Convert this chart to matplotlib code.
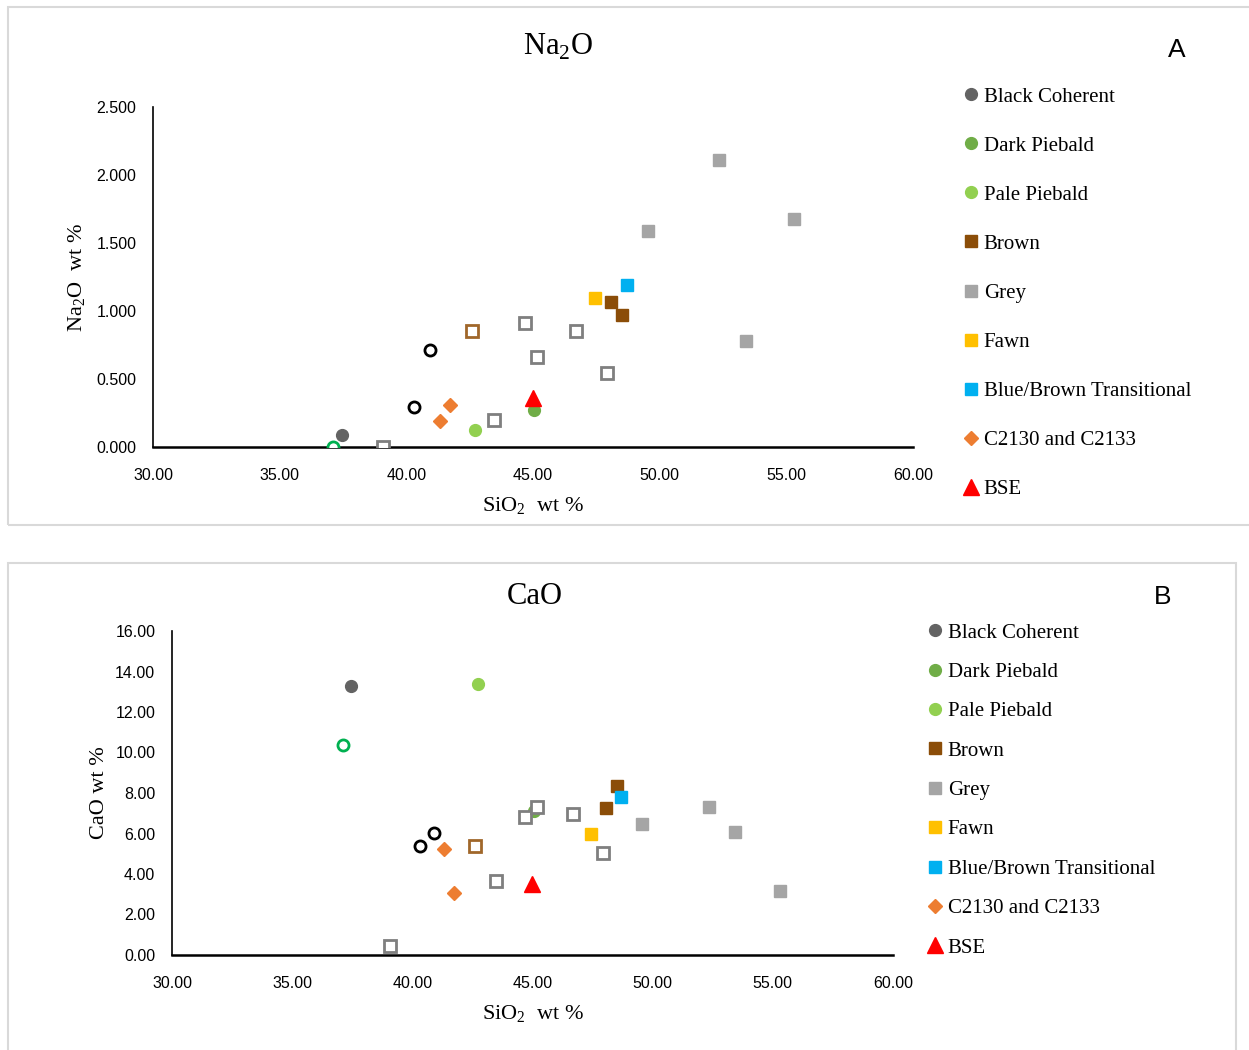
import matplotlib
matplotlib.use("Agg")
import matplotlib.pyplot as plt
from matplotlib.patches import Rectangle
from matplotlib.ticker import FormatStrFormatter

plt.rcParams['mathtext.fontset'] = 'custom'
plt.rcParams['mathtext.rm'] = 'Liberation Serif'
SERIF = 'Liberation Serif'
SANS = 'Liberation Sans'

# SiO2 / Na2O / CaO (wt %)
black_sio2 = [37.45]
black_na2o = [0.09]
black_cao = [13.28]

dark_sio2 = [45.05]
dark_na2o = [0.27]
dark_cao = [7.10]

pale_sio2 = [42.72]
pale_na2o = [0.125]
pale_cao = [13.38]

brown_sio2 = [48.07, 48.50]
brown_na2o = [1.066, 0.970]
brown_cao = [7.26, 8.35]

grey_sio2 = [49.55, 52.33, 53.42, 55.30]
grey_na2o = [1.588, 2.110, 0.780, 1.676]
grey_cao = [6.47, 7.31, 6.07, 3.16]

fawn_sio2 = [47.45]
fawn_na2o = [1.095]
fawn_cao = [5.98]

blue_sio2 = [48.70]
blue_na2o = [1.190]
blue_cao = [7.80]

c21_sio2 = [41.33, 41.73]
c21_na2o = [0.190, 0.310]
c21_cao = [5.23, 3.06]

bse_sio2 = [45.00]
bse_na2o = [0.360]
bse_cao = [3.50]

# open symbols (not in legend)
oblack_sio2 = [40.30, 40.92]
oblack_na2o = [0.294, 0.713]
oblack_cao = [5.38, 6.02]

ogreen_sio2 = [37.10]
ogreen_na2o = [0.0]
ogreen_cao = [10.37]

obrown_sio2 = [42.60]
obrown_na2o = [0.853]
obrown_cao = [5.38]

ogrey_sio2 = [39.08, 43.47, 44.69, 45.17, 46.70, 47.93]
ogrey_na2o = [0.0, 0.200, 0.910, 0.660, 0.853, 0.544]
ogrey_cao = [0.44, 3.65, 6.81, 7.31, 6.96, 5.04]

filled = [
    ('Black Coherent', black_sio2, black_na2o, black_cao, 'o', '#636363', 8.5),
    ('Dark Piebald', dark_sio2, dark_na2o, dark_cao, 'o', '#70AD47', 8.5),
    ('Pale Piebald', pale_sio2, pale_na2o, pale_cao, 'o', '#92D050', 8.5),
    ('Brown', brown_sio2, brown_na2o, brown_cao, 's', '#8B4D08', 8.5),
    ('Grey', grey_sio2, grey_na2o, grey_cao, 's', '#A5A5A5', 8.5),
    ('Fawn', fawn_sio2, fawn_na2o, fawn_cao, 's', '#FFC000', 8.5),
    ('Blue/Brown Transitional', blue_sio2, blue_na2o, blue_cao, 's', '#00B0F0', 8.5),
    ('C2130 and C2133', c21_sio2, c21_na2o, c21_cao, 'D', '#ED7D31', 7),
    ('BSE', bse_sio2, bse_na2o, bse_cao, '^', '#FF0000', 11.5),
]
hollow = [
    (oblack_sio2, oblack_na2o, oblack_cao, 'o', '#000000', 8),
    (ogreen_sio2, ogreen_na2o, ogreen_cao, 'o', '#00B050', 8),
    (obrown_sio2, obrown_na2o, obrown_cao, 's', '#A0672A', 8),
    (ogrey_sio2, ogrey_na2o, ogrey_cao, 's', '#7F7F7F', 8),
]

fig = plt.figure(figsize=(12.49, 10.5), dpi=100)

# panel frames
fig.patches.append(Rectangle((8/1249, 1-525/1050), 1, 518/1050, transform=fig.transFigure,
                             fill=False, edgecolor='#d9d9d9', lw=1.5))
fig.patches.append(Rectangle((8/1249, -0.01), 1228/1249, 1-563/1050+0.01, transform=fig.transFigure,
                             fill=False, edgecolor='#d9d9d9', lw=1.5))


def panel(rect, col, ylim, yfmt, ylabel, title, letter, title_xy, letter_xy, leg_anchor, leg_space,
          ylab_x, xlab_pad):
    ax = fig.add_axes(rect)
    for name, x, na, ca, m, c, ms in filled:
        y = na if col == 0 else ca
        ax.plot(x, y, ls='none', marker=m, color=c, ms=ms, mec=c, label=name, zorder=3)
    for x, na, ca, m, c, ms in hollow:
        y = na if col == 0 else ca
        ax.plot(x, y, ls='none', marker=m, mfc='white', mec=c, mew=2, ms=ms, zorder=4)
    ax.set_xlim(30, 60)
    ax.set_ylim(*ylim)
    ax.set_xticks([30, 35, 40, 45, 50, 55, 60])
    ax.xaxis.set_major_formatter(FormatStrFormatter('%.2f'))
    ax.yaxis.set_major_formatter(FormatStrFormatter(yfmt))
    for s in ['top', 'right']:
        ax.spines[s].set_visible(False)
    ax.spines['left'].set_linewidth(1.2)
    ax.spines['bottom'].set_linewidth(1.8)
    ax.tick_params(length=0, labelsize=11.5)
    ax.tick_params(axis='x', pad=15)
    ax.tick_params(axis='y', pad=12)
    for t in ax.get_xticklabels() + ax.get_yticklabels():
        t.set_fontfamily(SANS)
    ax.set_xlabel(r'SiO$_2$  wt %', fontsize=16, fontfamily=SERIF, labelpad=xlab_pad)
    ax.set_ylabel(ylabel, fontsize=16, fontfamily=SERIF)
    ax.yaxis.set_label_coords(ylab_x, 0.5)
    fig.text(title_xy[0]/1249, 1-title_xy[1]/1050, title, fontsize=22, fontfamily=SERIF,
             ha='center', va='center')
    fig.text(letter_xy[0]/1249, 1-letter_xy[1]/1050, letter, fontsize=19, fontfamily=SANS,
             ha='center', va='center')
    ax.legend(loc='upper left', bbox_to_anchor=leg_anchor, bbox_transform=fig.transFigure,
              frameon=False, handlelength=0.6, handletextpad=0.3, labelspacing=leg_space,
              markerscale=1.0, borderpad=0, borderaxespad=0,
              prop={'family': SERIF, 'size': 15})
    return ax


ax = panel([153/1249, 1-447/1050, 760/1249, 340/1050], 0, (0, 2.5), '%.3f',
           r'Na$_2$O  wt %', r'Na$_2$O', 'A', (558, 47), (1177, 50),
           (965/1249, 1-87/1050), 1.415, -0.086, 9)
ax.set_yticks([0, 0.5, 1.0, 1.5, 2.0, 2.5])

ax = panel([172/1249, 1-955/1050, 721/1249, 324/1050], 1, (0, 16), '%.2f',
           'CaO wt %', 'CaO', 'B', (535, 596), (1163, 597),
           (929/1249, 1-623/1050), 0.95, -0.088, 9)
ax.set_yticks([0, 2, 4, 6, 8, 10, 12, 14, 16])

fig.savefig('out.png', dpi=100)
